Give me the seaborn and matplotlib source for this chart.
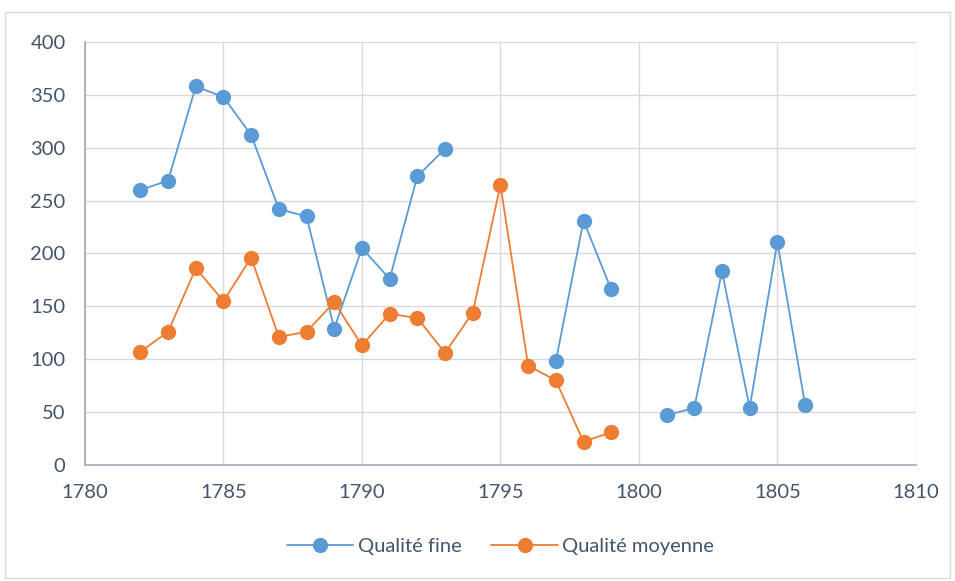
import numpy as np
import pandas as pd
import matplotlib
matplotlib.use("Agg")
import matplotlib.pyplot as plt
import seaborn as sns
from matplotlib.patches import Rectangle

# --- DATA ---
years = list(range(1782, 1807))
fine = [260, 269, 358, 348, 312, 242, 235, 129, 205, 176, 273, 299,
        None, None, None, 98, 231, 166, None, 47, 54, 183, 54, 211, 57]
moyenne = [107, 126, 186, 155, 196, 121, 126, 154, 113, 143, 139, 106,
           144, 265, 94, 80, 22, 31, None, None, None, None, None, None, None]
series_names = ["Qualité fine", "Qualité moyenne"]
colors = ["#5b9bd5", "#ed7d31"]


def to_long(name, values):
    # split into runs of consecutive values so gaps stay as gaps
    rows = []
    seg = 0
    for y, v in zip(years, values):
        if v is None:
            seg += 1
            continue
        rows.append({"year": y, "value": v, "series": name, "seg": f"{name}-{seg}"})
    return rows


df = pd.DataFrame(to_long(series_names[0], fine) + to_long(series_names[1], moyenne))

sns.set_theme(style="white")
plt.rcParams["font.family"] = ["Lato", "DejaVu Sans"]

fig = plt.figure(figsize=(9.55, 5.81), dpi=100)
ax = fig.add_axes([0.089, 0.1997, 0.870, 0.728])

sns.lineplot(data=df, x="year", y="value", hue="series", units="seg",
             estimator=None, palette=colors, hue_order=series_names,
             marker="o", markersize=11, markeredgewidth=0, linewidth=1.3,
             sort=False, ax=ax)

ax.set_xlim(1780, 1810)
ax.set_ylim(0, 400)
ax.set_xticks(range(1780, 1811, 5))
ax.set_yticks(range(0, 401, 50))
ax.grid(True, color="#d9d9d9", linewidth=1)
ax.set_axisbelow(True)
ax.set_xlabel("")
ax.set_ylabel("")
for s in ["top", "right"]:
    ax.spines[s].set_visible(False)
for s in ["left", "bottom"]:
    ax.spines[s].set_color("#a6b0c2")
    ax.spines[s].set_linewidth(1.3)
ax.tick_params(length=0, labelsize=14.5, labelcolor="#44546a", pad=14)

ax.legend(loc="upper center", bbox_to_anchor=(0.5, -0.13), ncol=2, frameon=False,
          fontsize=14.5, labelcolor="#44546a", handlelength=3.3, columnspacing=1.5,
          handletextpad=0.2)

fig.patches.append(Rectangle((0.005, 0.005), 0.99, 0.975, transform=fig.transFigure,
                             fill=False, edgecolor="#d9d9d9", linewidth=1))

fig.savefig("out.png", dpi=100)
